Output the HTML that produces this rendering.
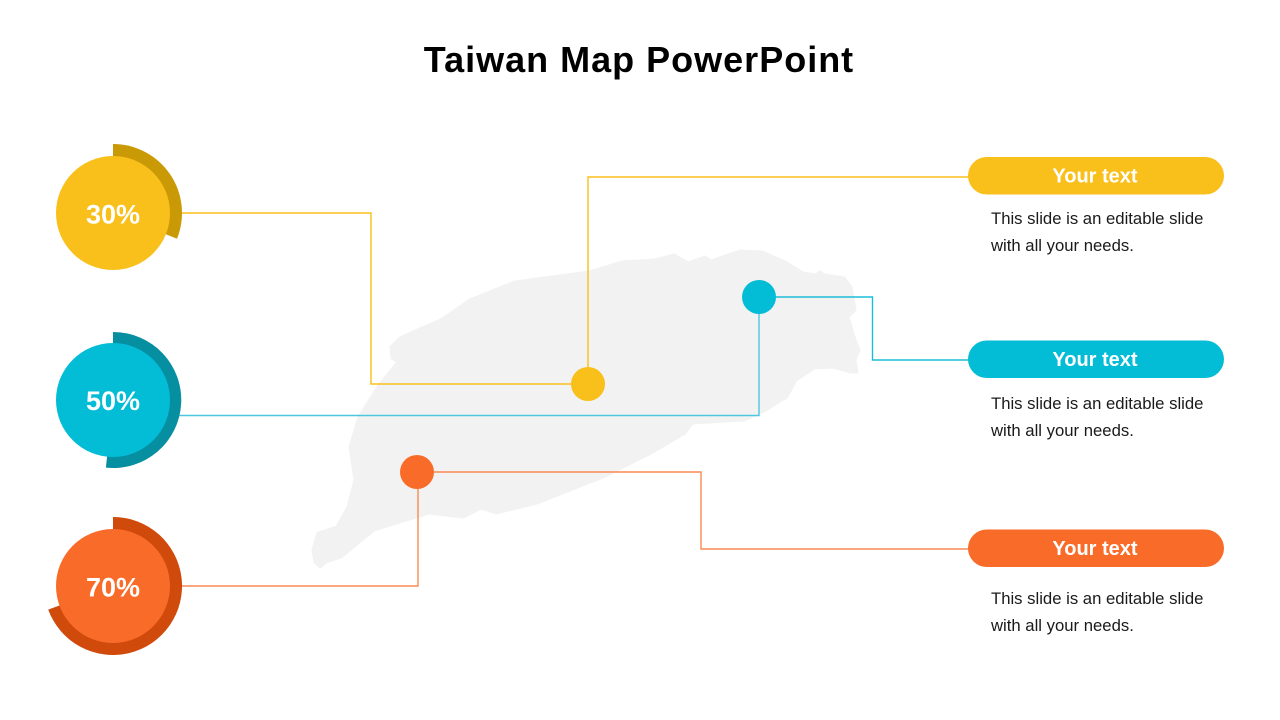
<!DOCTYPE html>
<html><head><meta charset="utf-8"><style>
html,body{margin:0;padding:0;background:#fff;}
svg{display:block;}
</style></head><body>
<svg width="1280" height="720" viewBox="0 0 1280 720" xmlns="http://www.w3.org/2000/svg">
<rect width="1280" height="720" fill="#ffffff"/>
<text x="639" y="72" text-anchor="middle" font-family="Liberation Sans, sans-serif" font-weight="bold" font-size="36" letter-spacing="1" fill="#000">Taiwan Map PowerPoint</text>

<!-- map -->
<path fill="#f2f2f2" d="M674,255 L688,263 L705,257 L711,261 L740,251 L762,252 L785,262 L803,273 L816,275 L820,272 L825,275 L844,278 L851,287 L855,310 L848,317 L855,340 L859,350 L855,360 L857,372 L851,372 L833,367 L814,368 L796,380 L786,398 L781,400 L766,410 L744,420 L692,423 L685,433 L651,453 L603,477 L537,503 L496,513 L481,508 L463,517 L429,513 L374,530 L341,557 L326,562 L320,567 L315,562 L313,550 L318,533 L337,527 L348,507 L355,480 L350,447 L359,417 L378,387 L398,362 L392,358 L391,347 L400,338 L422,328 L441,320 L470,300 L515,282 L589,272 L622,262 L655,260 Z" stroke="#f2f2f2" stroke-width="3" stroke-linejoin="round"/>

<!-- connectors -->
<g fill="none" stroke-width="1.4">
<polyline points="175,213 371,213 371,384 588,384" stroke="#f9bf1a"/>
<polyline points="588,384 588,177 975,177" stroke="#f9bf1a"/>
<polyline points="175,415.5 759,415.5 759,297" stroke="#4cc8de"/>
<polyline points="759,297 872.5,297 872.5,360 975,360" stroke="#1cbdd8"/>
<polyline points="417,472 701,472 701,549 975,549" stroke="#f98a52"/>
<polyline points="418,472 418,586 175,586" stroke="#f98a52"/>
</g>

<!-- big circles -->
<path d="M113,213 L113,144 A69,69 0 0 1 177,238.8 Z" fill="#c99a06"/>
<circle cx="113" cy="213" r="57" fill="#f9bf1a"/>
<text x="113" y="223.5" text-anchor="middle" font-family="Liberation Sans, sans-serif" font-weight="bold" font-size="27" fill="#fff">30%</text>

<path d="M113,400 L113,332 A68,68 0 1 1 105.9,467.6 Z" fill="#068fa1"/>
<circle cx="113" cy="400" r="57" fill="#03bcd6"/>
<text x="113" y="410" text-anchor="middle" font-family="Liberation Sans, sans-serif" font-weight="bold" font-size="27" fill="#fff">50%</text>

<path d="M113,586 L113,517 A69,69 0 1 1 48.2,609.6 Z" fill="#d04a0b"/>
<circle cx="113" cy="586" r="57" fill="#f96b28"/>
<text x="113" y="596.5" text-anchor="middle" font-family="Liberation Sans, sans-serif" font-weight="bold" font-size="27" fill="#fff">70%</text>

<!-- small dots -->
<circle cx="588" cy="384" r="17" fill="#f9bf1a"/>
<circle cx="759" cy="297" r="17" fill="#03bcd6"/>
<circle cx="417" cy="472" r="17" fill="#f96b28"/>

<!-- pills -->
<rect x="968" y="157" width="256" height="37.5" rx="18.75" fill="#f9bf1a"/>
<text x="1095" y="182.5" text-anchor="middle" font-family="Liberation Sans, sans-serif" font-weight="bold" font-size="20" fill="#fff">Your text</text>
<rect x="968" y="340.5" width="256" height="37.5" rx="18.75" fill="#03bcd6"/>
<text x="1095" y="366" text-anchor="middle" font-family="Liberation Sans, sans-serif" font-weight="bold" font-size="20" fill="#fff">Your text</text>
<rect x="968" y="529.5" width="256" height="37.5" rx="18.75" fill="#f96b28"/>
<text x="1095" y="555" text-anchor="middle" font-family="Liberation Sans, sans-serif" font-weight="bold" font-size="20" fill="#fff">Your text</text>

<!-- body texts -->
<g font-family="Liberation Sans, sans-serif" font-size="16.7" fill="#1a1a1a">
<text x="991" y="224">This slide is an editable slide</text>
<text x="991" y="251">with all your needs.</text>
<text x="991" y="409">This slide is an editable slide</text>
<text x="991" y="436">with all your needs.</text>
<text x="991" y="604">This slide is an editable slide</text>
<text x="991" y="631">with all your needs.</text>
</g>
</svg>
</body></html>
